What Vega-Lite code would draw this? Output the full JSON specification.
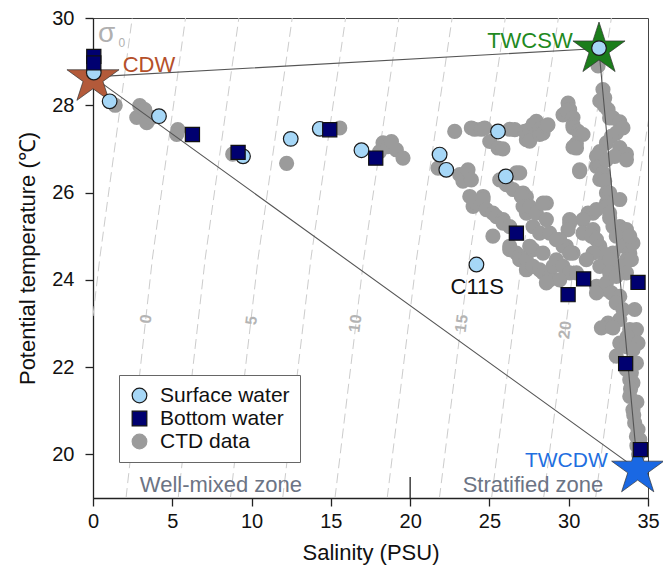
{
"$schema":"https://vega.github.io/schema/vega-lite/v6.json",
"width":555,"height":480,
"autosize":{"type":"none"},
"padding":{"left":93,"top":18,"right":15,"bottom":68},
"background":"white",
"config":{
 "font":"Liberation Sans",
 "view":{"stroke":"#444444","strokeWidth":1},
 "axis":{"grid":false,"domainColor":"#222222","domainWidth":1.3,"tickColor":"#222222","tickWidth":1.3,"tickSize":8,"labelFontSize":20,"labelColor":"#111111","titleFontSize":22,"titleFontWeight":"normal","titleColor":"#111111"}
},
"datasets":{
 "iso":[
  {"sigma":-2.5,"S":0,"T":23.17},{"sigma":-2.5,"S":0.43,"T":24.5},{"sigma":-2.5,"S":2.475,"T":30},
  {"sigma":0,"S":2.084,"T":19},{"sigma":0,"S":3.75,"T":24.5},{"sigma":0,"S":5.834,"T":30},
  {"sigma":2.5,"S":5.372,"T":19},{"sigma":2.5,"S":7.08,"T":24.5},{"sigma":2.5,"S":9.199,"T":30},
  {"sigma":5,"S":8.667,"T":19},{"sigma":5,"S":10.414,"T":24.5},{"sigma":5,"S":12.564,"T":30},
  {"sigma":7.5,"S":11.963,"T":19},{"sigma":7.5,"S":13.748,"T":24.5},{"sigma":7.5,"S":15.929,"T":30},
  {"sigma":10,"S":15.26,"T":19},{"sigma":10,"S":17.08,"T":24.5},{"sigma":10,"S":19.291,"T":30},
  {"sigma":12.5,"S":18.554,"T":19},{"sigma":12.5,"S":20.411,"T":24.5},{"sigma":12.5,"S":22.648,"T":30},
  {"sigma":15,"S":21.846,"T":19},{"sigma":15,"S":23.737,"T":24.5},{"sigma":15,"S":26.002,"T":30},
  {"sigma":17.5,"S":25.135,"T":19},{"sigma":17.5,"S":27.057,"T":24.5},{"sigma":17.5,"S":29.35,"T":30},
  {"sigma":20,"S":28.417,"T":19},{"sigma":20,"S":30.375,"T":24.5},{"sigma":20,"S":32.691,"T":30},
  {"sigma":22.5,"S":31.696,"T":19},{"sigma":22.5,"S":33.684,"T":24.5},{"sigma":22.5,"S":36.03,"T":30}
 ],
 "isolab":[
  {"lab":"0","S":3.35,"T":23.1},{"lab":"5","S":10.0,"T":23.07},{"lab":"10","S":16.55,"T":23.0},{"lab":"15","S":23.25,"T":23.0},{"lab":"20","S":29.78,"T":22.85}
 ],
 "ctd":[
  {"S":1.4,"T":28.0},{"S":2.95,"T":27.99},{"S":2.76,"T":27.72},{"S":3.26,"T":27.9},{"S":3.39,"T":27.6},{"S":3.7,"T":27.72},{"S":5.35,"T":27.44},{"S":5.28,"T":27.33},{"S":8.81,"T":26.88},{"S":12.21,"T":26.67},
  {"S":15.56,"T":27.48},{"S":18.08,"T":26.94},{"S":18.29,"T":27.14},{"S":18.6,"T":27.05},{"S":18.82,"T":27.17},{"S":19.13,"T":26.98},{"S":19.55,"T":26.79},{"S":21.76,"T":26.56},{"S":22.81,"T":27.4},{"S":23.13,"T":26.41},
  {"S":23.33,"T":26.26},{"S":23.65,"T":26.52},{"S":23.86,"T":26.29},{"S":23.86,"T":27.48},{"S":24.07,"T":27.45},{"S":24.49,"T":27.45},{"S":24.6,"T":25.91},{"S":24.7,"T":27.48},{"S":25.02,"T":27.17},{"S":25.54,"T":27.02},
  {"S":25.85,"T":27.0},{"S":25.65,"T":26.29},{"S":26.07,"T":26.18},{"S":26.28,"T":27.45},{"S":26.49,"T":26.07},{"S":26.6,"T":27.44},{"S":26.7,"T":26.45},{"S":26.91,"T":26.45},{"S":27.12,"T":25.99},{"S":27.23,"T":27.4},
  {"S":27.33,"T":27.21},{"S":27.33,"T":27.37},{"S":27.54,"T":27.45},{"S":27.54,"T":27.18},{"S":27.75,"T":27.56},{"S":27.96,"T":27.63},{"S":28.17,"T":27.45},{"S":28.17,"T":27.33},{"S":28.38,"T":27.36},{"S":28.59,"T":27.52},
  {"S":28.69,"T":27.55},{"S":29.64,"T":27.78},{"S":29.96,"T":28.05},{"S":30.06,"T":27.9},{"S":29.9,"T":27.87},{"S":30.27,"T":27.72},{"S":30.27,"T":27.55},{"S":30.27,"T":27.49},{"S":30.59,"T":27.4},{"S":30.69,"T":27.34},
  {"S":30.9,"T":27.33},{"S":30.48,"T":27.12},{"S":30.27,"T":27.04},{"S":30.49,"T":27.02},{"S":30.69,"T":26.48},{"S":30.69,"T":26.52},{"S":31.75,"T":26.6},{"S":31.85,"T":28.9},{"S":32.16,"T":28.36},{"S":32.27,"T":28.17},
  {"S":32.27,"T":27.98},{"S":31.96,"T":28.1},{"S":32.48,"T":27.9},{"S":32.58,"T":27.71},{"S":32.79,"T":27.71},{"S":33.22,"T":27.62},{"S":33.42,"T":27.48},{"S":33.0,"T":27.36},{"S":32.69,"T":27.29},{"S":32.38,"T":27.14},
  {"S":33.22,"T":27.03},{"S":33.64,"T":26.88},{"S":31.96,"T":26.94},{"S":31.75,"T":26.83},{"S":31.96,"T":26.6},{"S":32.16,"T":26.45},{"S":32.38,"T":26.75},{"S":32.9,"T":26.83},{"S":33.64,"T":26.75},{"S":31.96,"T":26.3},
  {"S":32.27,"T":26.26},{"S":32.38,"T":25.99},{"S":32.58,"T":25.99},{"S":32.38,"T":25.76},{"S":33.22,"T":25.84},{"S":32.38,"T":25.68},{"S":32.58,"T":25.53},{"S":32.58,"T":25.42},{"S":32.79,"T":25.22},{"S":33.22,"T":25.22},
  {"S":33.64,"T":25.15},{"S":33.0,"T":25.0},{"S":33.42,"T":24.77},{"S":33.85,"T":24.61},{"S":33.64,"T":24.46},{"S":32.79,"T":24.61},{"S":33.22,"T":24.31},{"S":33.64,"T":24.16},{"S":33.95,"T":24.46},{"S":34.05,"T":24.84},
  {"S":33.85,"T":25.0},{"S":31.22,"T":25.53},{"S":31.53,"T":25.53},{"S":30.9,"T":25.38},{"S":31.75,"T":25.61},{"S":30.06,"T":25.38},{"S":30.06,"T":25.3},{"S":29.96,"T":25.15},{"S":30.9,"T":25.07},{"S":31.53,"T":25.15},
  {"S":31.43,"T":25.0},{"S":31.75,"T":24.92},{"S":31.96,"T":24.77},{"S":32.16,"T":24.61},{"S":31.53,"T":24.61},{"S":31.11,"T":24.46},{"S":31.96,"T":24.31},{"S":32.58,"T":24.46},{"S":32.58,"T":24.16},{"S":28.59,"T":25.76},
  {"S":27.33,"T":25.53},{"S":29.43,"T":24.92},{"S":29.85,"T":24.77},{"S":30.27,"T":24.61},{"S":27.33,"T":25.9},{"S":23.97,"T":25.68},{"S":24.18,"T":25.76},{"S":23.76,"T":25.91},{"S":24.6,"T":25.84},{"S":24.81,"T":25.61},
  {"S":25.22,"T":25.53},{"S":25.44,"T":25.45},{"S":25.86,"T":25.38},{"S":25.86,"T":25.3},{"S":25.22,"T":25.0},{"S":26.28,"T":25.22},{"S":26.28,"T":24.69},{"S":26.28,"T":24.77},{"S":26.7,"T":24.61},{"S":26.9,"T":24.54},
  {"S":26.91,"T":24.46},{"S":27.33,"T":24.46},{"S":27.33,"T":24.23},{"S":27.75,"T":24.31},{"S":27.75,"T":24.69},{"S":28.17,"T":24.23},{"S":28.38,"T":24.16},{"S":28.8,"T":24.08},{"S":28.8,"T":24.0},{"S":29.01,"T":24.31},
  {"S":27.01,"T":25.91},{"S":27.12,"T":25.68},{"S":27.54,"T":25.68},{"S":27.96,"T":25.53},{"S":28.38,"T":25.76},{"S":28.59,"T":25.38},{"S":27.75,"T":25.22},{"S":28.17,"T":25.07},{"S":28.8,"T":25.07},{"S":27.54,"T":24.77},
  {"S":28.38,"T":24.61},{"S":29.22,"T":24.46},{"S":29.64,"T":24.77},{"S":29.22,"T":24.92},{"S":30.06,"T":24.61},{"S":29.64,"T":24.31},{"S":30.06,"T":24.16},{"S":29.43,"T":24.0},{"S":30.49,"T":24.16},{"S":28.59,"T":23.93},
  {"S":31.75,"T":23.85},{"S":32.38,"T":23.78},{"S":31.75,"T":23.7},{"S":32.38,"T":23.93},{"S":33.0,"T":24.08},{"S":32.69,"T":23.7},{"S":33.22,"T":23.62},{"S":33.0,"T":23.47},{"S":33.42,"T":23.32},{"S":34.16,"T":23.32},
  {"S":33.22,"T":23.09},{"S":32.48,"T":23.01},{"S":32.58,"T":22.93},{"S":32.06,"T":22.9},{"S":32.79,"T":22.9},{"S":33.85,"T":22.86},{"S":34.27,"T":22.86},{"S":33.7,"T":22.7},{"S":33.22,"T":22.55},{"S":34.37,"T":22.55},
  {"S":33.64,"T":22.47},{"S":34.05,"T":22.4},{"S":33.0,"T":22.25},{"S":34.27,"T":22.09},{"S":33.95,"T":22.1},{"S":33.64,"T":21.94},{"S":33.95,"T":21.87},{"S":33.85,"T":21.71},{"S":34.05,"T":21.64},{"S":33.9,"T":21.5},
  {"S":33.85,"T":21.33},{"S":34.3,"T":21.2},{"S":34.05,"T":21.02},{"S":34.1,"T":20.9},{"S":34.16,"T":20.72},{"S":34.37,"T":20.57},{"S":34.27,"T":20.41},{"S":34.48,"T":20.34},{"S":34.3,"T":20.2},{"S":34.4,"T":20.0}
 ],
 "surface":[
  {"S":0.05,"T":28.75},{"S":1.05,"T":28.09},{"S":4.16,"T":27.75},{"S":9.46,"T":26.83},{"S":12.47,"T":27.23},{"S":14.3,"T":27.46},{"S":16.93,"T":26.97},{"S":21.86,"T":26.87},{"S":22.28,"T":26.52},{"S":25.54,"T":27.4},{"S":26.03,"T":26.37},{"S":24.18,"T":24.35},{"S":31.91,"T":29.31}
 ],
 "bottom":[
  {"S":0.05,"T":29.12},{"S":0.05,"T":28.97},{"S":6.27,"T":27.33},{"S":9.15,"T":26.92},{"S":14.93,"T":27.44},{"S":17.83,"T":26.79},{"S":26.7,"T":25.07},{"S":29.96,"T":23.66},{"S":30.94,"T":24.02},{"S":34.37,"T":23.94},{"S":33.59,"T":22.08},{"S":34.52,"T":20.11}
 ],
 "mix":[
  {"o":1,"S":0,"T":28.65},{"o":2,"S":31.9,"T":29.3},{"o":3,"S":34.35,"T":19.65},{"o":4,"S":0,"T":28.65}
 ],
 "stars":[
  {"name":"CDW","S":0,"T":28.62},{"name":"TWCSW","S":31.91,"T":29.28},{"name":"TWCDW","S":34.35,"T":19.65}
 ],
 "labels":[
  {"label":"CDW","S":1.87,"T":28.93},
  {"label":"TWCSW","S":30.25,"T":29.48},
  {"label":"TWCDW","S":32.46,"T":19.84},
  {"label":"C11S","S":24.23,"T":23.83},
  {"label":"Well-mixed zone","S":2.95,"T":19.29},
  {"label":"Stratified zone","S":23.31,"T":19.29},
  {"label":"σ","S":0.86,"T":29.64},
  {"label":"0","S":1.82,"T":29.43}
 ]
},
"encoding":{
 "x":{"field":"S","type":"quantitative","scale":{"domain":[0,35],"nice":false,"zero":false},
  "axis":{"values":[0,5,10,15,20,25,30,35],"title":"Salinity (PSU)","titleX":277.5,"titleY":54,"titleBaseline":"middle","labelPadding":5,"labelFlush":false}},
 "y":{"field":"T","type":"quantitative","scale":{"domain":[19,30],"nice":false,"zero":false},
  "axis":{"values":[20,22,24,26,28,30],"title":"Potential temperature (℃)","titleX":-66,"titleY":240,"titleAngle":-90,"titleAlign":"center","titleBaseline":"middle","labelPadding":11,"labelFlush":false}}
},
"layer":[
 {"data":{"name":"iso"},"mark":{"type":"line","strokeDash":[10,5],"color":"#cccccc","strokeWidth":1,"clip":true},
  "encoding":{"detail":{"field":"sigma","type":"nominal"},"order":{"field":"T","type":"quantitative"}}},
 {"data":{"name":"isolab"},"mark":{"type":"text","angle":-83,"fontSize":16,"fontWeight":"bold","color":"#b4b4b4","align":"center","baseline":"middle"},
  "encoding":{"text":{"field":"lab"}}},
 {"data":{"values":[{"S":20,"T":19,"T2":19.48}]},"mark":{"type":"rule","color":"#222222","strokeWidth":1.3},
  "encoding":{"y2":{"field":"T2"}}},
 {"data":{"name":"ctd"},"transform":[{"calculate":"'CTD data'","as":"type"}],
  "mark":{"type":"point","filled":true,"opacity":1,"size":230,"strokeWidth":0},
  "encoding":{
   "fill":{"field":"type","type":"nominal","scale":{"domain":["Surface water","Bottom water","CTD data"],"range":["#a6d7f7","#000070","#9b9b9b"]},
    "legend":{"title":null,"orient":"none","legendX":26,"legendY":357,"fillColor":"white","strokeColor":"#666666","padding":10,"labelFontSize":21,"labelColor":"#111111","symbolSize":215,"symbolStrokeWidth":1.2,"rowPadding":1,"labelOffset":10}},
   "shape":{"field":"type","type":"nominal","scale":{"domain":["Surface water","Bottom water","CTD data"],"range":["circle","square","circle"]},
    "legend":{"title":null,"orient":"none","legendX":26,"legendY":357,"fillColor":"white","strokeColor":"#666666","padding":10,"labelFontSize":21,"labelColor":"#111111","symbolSize":215,"symbolStrokeWidth":1.2,"rowPadding":1,"labelOffset":10}},
   "stroke":{"field":"type","type":"nominal","scale":{"domain":["Surface water","Bottom water","CTD data"],"range":["#1a1a1a","#111111","#9b9b9b"]},
    "legend":{"title":null,"orient":"none","legendX":26,"legendY":357,"fillColor":"white","strokeColor":"#666666","padding":10,"labelFontSize":21,"labelColor":"#111111","symbolSize":215,"symbolStrokeWidth":1.2,"rowPadding":1,"labelOffset":10}}
  }},
 {"data":{"name":"mix"},"mark":{"type":"line","color":"#555555","strokeWidth":1.1},
  "encoding":{"order":{"field":"o","type":"quantitative"}}},
 {"data":{"name":"stars"},
  "mark":{"type":"point","filled":true,"opacity":1,"size":3000,"stroke":"#333333","strokeWidth":0.7,
   "shape":"M0,-1L0.2245,-0.309L0.9511,-0.309L0.3633,0.118L0.5878,0.809L0,0.382L-0.5878,0.809L-0.3633,0.118L-0.9511,-0.309L-0.2245,-0.309Z"},
  "encoding":{"color":{"field":"name","type":"nominal","scale":{"domain":["CDW","TWCSW","TWCDW"],"range":["#b35a3a","#1b7d1b","#1a68e3"]},"legend":null}}},
 {"data":{"name":"surface"},"transform":[{"calculate":"'Surface water'","as":"type"}],
  "mark":{"type":"point","filled":true,"opacity":1,"size":215,"strokeWidth":1.2},
  "encoding":{
   "fill":{"field":"type","type":"nominal","scale":{"domain":["Surface water","Bottom water","CTD data"],"range":["#a6d7f7","#000070","#9b9b9b"]},
    "legend":{"title":null,"orient":"none","legendX":26,"legendY":357,"fillColor":"white","strokeColor":"#666666","padding":10,"labelFontSize":21,"labelColor":"#111111","symbolSize":215,"symbolStrokeWidth":1.2,"rowPadding":1,"labelOffset":10}},
   "shape":{"field":"type","type":"nominal","scale":{"domain":["Surface water","Bottom water","CTD data"],"range":["circle","square","circle"]},
    "legend":{"title":null,"orient":"none","legendX":26,"legendY":357,"fillColor":"white","strokeColor":"#666666","padding":10,"labelFontSize":21,"labelColor":"#111111","symbolSize":215,"symbolStrokeWidth":1.2,"rowPadding":1,"labelOffset":10}},
   "stroke":{"field":"type","type":"nominal","scale":{"domain":["Surface water","Bottom water","CTD data"],"range":["#1a1a1a","#111111","#9b9b9b"]},
    "legend":{"title":null,"orient":"none","legendX":26,"legendY":357,"fillColor":"white","strokeColor":"#666666","padding":10,"labelFontSize":21,"labelColor":"#111111","symbolSize":215,"symbolStrokeWidth":1.2,"rowPadding":1,"labelOffset":10}}
  }},
 {"data":{"name":"bottom"},"transform":[{"calculate":"'Bottom water'","as":"type"}],
  "mark":{"type":"point","filled":true,"opacity":1,"size":200,"strokeWidth":1.2},
  "encoding":{
   "fill":{"field":"type","type":"nominal","scale":{"domain":["Surface water","Bottom water","CTD data"],"range":["#a6d7f7","#000070","#9b9b9b"]},
    "legend":{"title":null,"orient":"none","legendX":26,"legendY":357,"fillColor":"white","strokeColor":"#666666","padding":10,"labelFontSize":21,"labelColor":"#111111","symbolSize":215,"symbolStrokeWidth":1.2,"rowPadding":1,"labelOffset":10}},
   "shape":{"field":"type","type":"nominal","scale":{"domain":["Surface water","Bottom water","CTD data"],"range":["circle","square","circle"]},
    "legend":{"title":null,"orient":"none","legendX":26,"legendY":357,"fillColor":"white","strokeColor":"#666666","padding":10,"labelFontSize":21,"labelColor":"#111111","symbolSize":215,"symbolStrokeWidth":1.2,"rowPadding":1,"labelOffset":10}},
   "stroke":{"field":"type","type":"nominal","scale":{"domain":["Surface water","Bottom water","CTD data"],"range":["#1a1a1a","#111111","#9b9b9b"]},
    "legend":{"title":null,"orient":"none","legendX":26,"legendY":357,"fillColor":"white","strokeColor":"#666666","padding":10,"labelFontSize":21,"labelColor":"#111111","symbolSize":215,"symbolStrokeWidth":1.2,"rowPadding":1,"labelOffset":10}}
  }},
 {"data":{"name":"labels"},"transform":[{"filter":"datum.label === 'CDW'"}],
  "mark":{"type":"text","align":"left","baseline":"middle","fontSize":22,"color":"#b5502a"},"encoding":{"text":{"field":"label"}}},
 {"data":{"name":"labels"},"transform":[{"filter":"datum.label === 'TWCSW'"}],
  "mark":{"type":"text","align":"right","baseline":"middle","fontSize":22,"color":"#1f8a1f"},"encoding":{"text":{"field":"label"}}},
 {"data":{"name":"labels"},"transform":[{"filter":"datum.label === 'TWCDW'"}],
  "mark":{"type":"text","align":"right","baseline":"middle","fontSize":21,"color":"#1f6fe0"},"encoding":{"text":{"field":"label"}}},
 {"data":{"name":"labels"},"transform":[{"filter":"datum.label === 'C11S'"}],
  "mark":{"type":"text","align":"center","baseline":"middle","fontSize":22,"color":"#111111"},"encoding":{"text":{"field":"label"}}},
 {"data":{"name":"labels"},"transform":[{"filter":"datum.label === 'Well-mixed zone' || datum.label === 'Stratified zone'"}],
  "mark":{"type":"text","align":"left","baseline":"middle","fontSize":22,"color":"#6c7484"},"encoding":{"text":{"field":"label"}}},
 {"data":{"name":"labels"},"transform":[{"filter":"datum.label === 'σ'"}],
  "mark":{"type":"text","align":"center","baseline":"middle","fontSize":28,"color":"#b0b0b0"},"encoding":{"text":{"field":"label"}}},
 {"data":{"name":"labels"},"transform":[{"filter":"datum.label === '0'"}],
  "mark":{"type":"text","align":"center","baseline":"middle","fontSize":12,"color":"#b0b0b0"},"encoding":{"text":{"field":"label"}}}
]
}
